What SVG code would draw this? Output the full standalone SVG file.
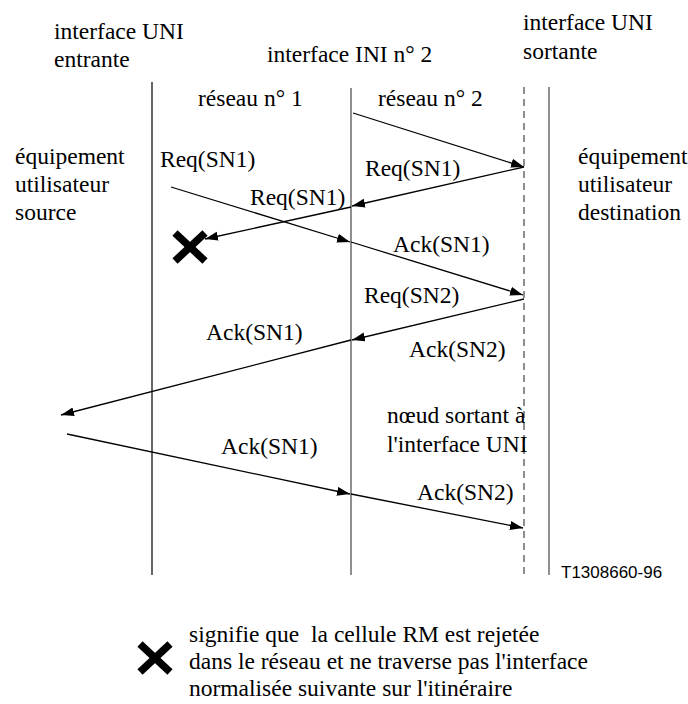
<svg xmlns="http://www.w3.org/2000/svg" width="688" height="704" viewBox="0 0 688 704">
<style>
text{font-family:"Liberation Serif","Times New Roman",serif;font-size:23.5px;fill:#000}
.sans{font-family:"Liberation Sans",Arial,sans-serif;font-size:17px}
.pre{white-space:pre}
.life{stroke:#000;stroke-width:1.2;fill:none}
.grey{stroke:#6a6a6a;stroke-width:1.5;fill:none}
.dash{stroke:#6a6a6a;stroke-width:1.5;stroke-dasharray:7 5;fill:none}
.msg{stroke:#000;stroke-width:1.3;fill:none;marker-end:url(#ah)}
.cross{stroke:#000;stroke-width:7.5;stroke-linecap:butt}
</style>
<defs>
<marker id="ah" markerUnits="userSpaceOnUse" markerWidth="14" markerHeight="10" refX="13" refY="4.5" orient="auto">
<path d="M0,0 L13,4.5 L0,9 z" fill="#000"/>
</marker>
<g id="xmark">
<line class="cross" x1="-15" y1="-14" x2="15" y2="14"/>
<line class="cross" x1="15" y1="-14" x2="-15" y2="14"/>
</g>
</defs>
<rect width="688" height="704" fill="#fff"/>

<g id="uni-entrante">
<line class="life" x1="152" y1="82" x2="152" y2="575"/>
<text x="54" y="39">interface UNI</text>
<text x="54" y="67">entrante</text>
</g>
<g id="ini-2">
<line class="grey" x1="351" y1="88" x2="351" y2="575"/>
<text x="267" y="62">interface INI n° 2</text>
</g>
<g id="noeud-sortant">
<line class="dash" x1="524" y1="87" x2="524" y2="575"/>
<text x="387" y="423">nœud sortant à</text>
<text x="387" y="452">l'interface UNI</text>
</g>
<g id="uni-sortante">
<line class="grey" x1="549" y1="87" x2="549" y2="575"/>
<text x="523" y="30">interface UNI</text>
<text x="523" y="59">sortante</text>
</g>
<g id="reseau-1"><text x="198" y="106">réseau n° 1</text></g>
<g id="reseau-2"><text x="378" y="106">réseau n° 2</text></g>
<g id="source">
<text x="15" y="164">équipement</text>
<text x="15" y="192">utilisateur</text>
<text x="15" y="220">source</text>
</g>
<g id="destination">
<text x="578" y="164">équipement</text>
<text x="578" y="192">utilisateur</text>
<text x="578" y="220">destination</text>
</g>

<g id="connectors">
<line class="msg" x1="353" y1="113" x2="524" y2="167"/>
<line class="msg" x1="524" y1="167" x2="352" y2="206"/>
<line class="msg" x1="351" y1="207" x2="205" y2="239"/>
<line class="msg" x1="171" y1="187" x2="350" y2="242"/>
<line class="msg" x1="351" y1="242" x2="523" y2="295"/>
<line class="msg" x1="524" y1="299" x2="352" y2="340"/>
<line class="msg" x1="351" y1="340" x2="61" y2="415"/>
<line class="msg" x1="67" y1="434" x2="350" y2="494"/>
<line class="msg" x1="351" y1="494" x2="523" y2="528"/>
</g>

<g id="labels">
<text x="160" y="167">Req(SN1)</text>
<text x="365" y="176">Req(SN1)</text>
<text x="250" y="205">Req(SN1)</text>
<text x="393" y="252">Ack(SN1)</text>
<text x="364" y="303">Req(SN2)</text>
<text x="206" y="340">Ack(SN1)</text>
<text x="409" y="357">Ack(SN2)</text>
<text x="221" y="454">Ack(SN1)</text>
<text x="417" y="500">Ack(SN2)</text>
</g>

<g id="rejet"><use href="#xmark" x="190" y="247"/></g>
<g id="ref"><text class="sans" x="561" y="578">T1308660-96</text></g>

<g id="legende">
<use href="#xmark" x="155" y="658"/>
<text class="pre" xml:space="preserve" x="189" y="642">signifie que  la cellule RM est rejetée</text>
<text x="189" y="669">dans le réseau et ne traverse pas l'interface</text>
<text x="189" y="696">normalisée suivante sur l'itinéraire</text>
</g>
</svg>
